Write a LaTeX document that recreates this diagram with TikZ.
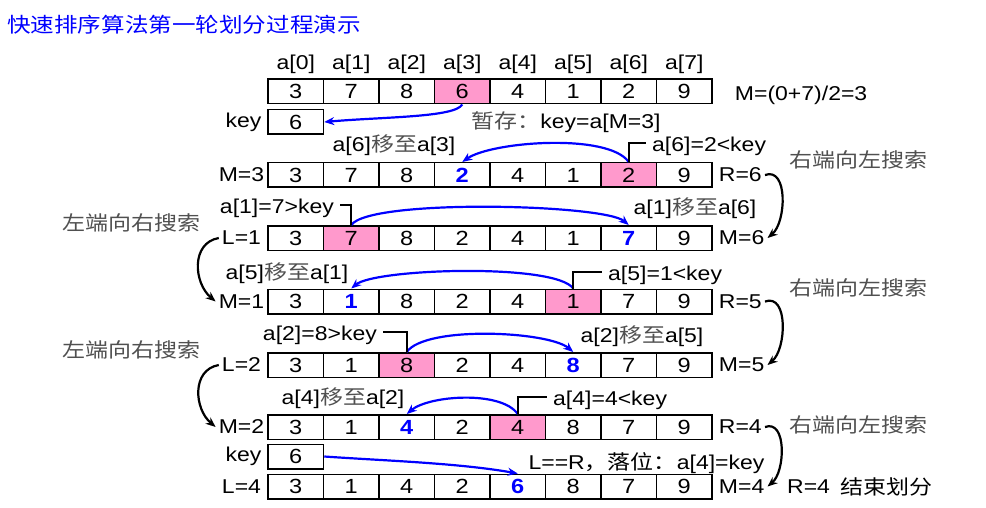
\documentclass[tikz,border=0pt]{standalone}
\usepackage{fontspec}
\setmainfont{Liberation Sans}[FakeStretch=1.15]
\newfontfamily\cjk{Noto Sans CJK SC}[FakeStretch=1.15]
\usetikzlibrary{arrows.meta, positioning}
\definecolor{keypink}{RGB}{255,153,204}
\definecolor{arrblue}{RGB}{0,0,255}
\definecolor{zhgray}{RGB}{80,80,80}
\newcommand{\zh}[1]{{\cjk #1}}
\newcommand{\zhg}[1]{{\cjk\color{zhgray}#1}}
\tikzset{
	cell/.style={draw, line width=1.5pt, minimum width=55.5pt, minimum height=24.5pt, inner sep=0pt, font=\fontsize{20.5}{24}\selectfont},
	hot/.style={cell, fill=keypink},
	moved/.style={cell, text=arrblue, font=\fontsize{20.5}{24}\selectfont\bfseries},
	lbl/.style={inner sep=0pt, font=\fontsize{20}{24}\selectfont},
	side/.style={lbl, inner xsep=3pt},
	cond/.style={lbl, inner xsep=6pt},
	mvarr/.style={arrblue, line width=2.2pt, -{Stealth[length=10pt, width=8pt]}},
	turn/.style={black, line width=2.2pt, -{Stealth[length=10pt, width=8pt]}},
	brk/.style={black, line width=1.6pt}
}

\begin{document}
\begin{tikzpicture}[x=1pt, y=1pt]
	\path[use as bounding box, fill=white] (0,0) rectangle (986,-508);

	\node[lbl, anchor=west, text=arrblue, font=\fontsize{20.5}{24}\selectfont] (title) at (7,-25) {\zh{快速排序算法第一轮划分过程演示}};

	\foreach \y/\vals/\hot/\mov [count=\row from 0] in {
		91.5/{3,7,8,6,4,1,2,9}/3/9,
		175/{3,7,8,2,4,1,2,9}/6/3,
		238/{3,7,8,2,4,1,7,9}/1/6,
		301.5/{3,1,8,2,4,1,7,9}/5/1,
		365/{3,1,8,2,4,8,7,9}/2/5,
		427/{3,1,4,2,4,8,7,9}/4/2,
		486.5/{3,1,4,2,6,8,7,9}/9/4}{
		\foreach \v [count=\col from 0] in \vals {
			\ifnum\col=\hot \def\sty{hot}\else\ifnum\col=\mov \def\sty{moved}\else\def\sty{cell}\fi\fi
			\node[\sty] (r\row-\col) at ({295.75+55.5*\col}, -\y) {\v};
		}
	}

	\foreach \col in {0,...,7}
		\node[lbl, above=5pt of r0-\col] (idx\col) {a[\col]};
	\node[lbl, anchor=west] (mid) at ([xshift=22pt, yshift=-4pt]r0-7.east) {M=(0+7)/2=3};

	\foreach \row/\lft/\rgt in {1/M=3/R=6, 2/L=1/M=6, 3/M=1/R=5, 4/L=2/M=5, 5/M=2/R=4, 6/L=4/M=4} {
		\node[side] (lt\row) at ([xshift=-54.25pt]r\row-0.center) {\lft};
		\node[side, right=3pt of r\row-7] (rt\row) {\rgt};
	}

	\node[cell] (key1) at (295.75,-122) {6};
	\node[side] (key1l) at ([xshift=-52.25pt]key1.center) {key};
	\node[cell] (key2) at (295.75,-456.5) {6};
	\node[side] (key2l) at ([xshift=-52.25pt]key2.center) {key};

	\node[lbl] (store) at (566,-122.5) {\zhg{暂存：}key=a[M=3]};
	\node[lbl] (mv1) at (394,-145) {a[6]\zhg{移至}a[3]};
	\node[lbl] (mv2) at (695,-208) {a[1]\zhg{移至}a[6]};
	\node[lbl] (mv3) at (287,-273) {a[5]\zhg{移至}a[1]};
	\node[lbl] (mv4) at (642,-336) {a[2]\zhg{移至}a[5]};
	\node[lbl] (mv5) at (343,-398.5) {a[4]\zhg{移至}a[2]};

	\node[cond, anchor=west] (cd1) at (646,-146) {a[6]=2<key};
	\node[cond, anchor=east] (cd2) at (340,-208) {a[1]=7>key};
	\node[cond, anchor=west] (cd3) at (602,-275) {a[5]=1<key};
	\node[cond, anchor=east] (cd4) at (383,-335) {a[2]=8>key};
	\node[cond, anchor=west] (cd5) at (547,-400) {a[4]=4<key};
	\node[lbl] (fin) at (646.5,-463.5) {L==R\zh{，落位：}a[4]=key};

	\node[lbl] (sr1) at (858,-160) {\zhg{右端向左搜索}};
	\node[lbl] (sr2) at (858,-288) {\zhg{右端向左搜索}};
	\node[lbl] (sr3) at (858,-425) {\zhg{右端向左搜索}};
	\node[lbl] (sl1) at (131.5,-223) {\zhg{左端向右搜索}};
	\node[lbl] (sl2) at (131.5,-350) {\zhg{左端向右搜索}};
	\node[lbl, anchor=west] (endR) at (787,-486.5) {R=4};
	\node[lbl] (endtx) at (886.5,-486.5) {\zh{结束划分}};

	\draw[mvarr] (r0-3.south) to[out=-120, in=5, out distance=15pt, in distance=60pt] (key1.east);
	\draw[mvarr] (r1-6.north) to[out=125, in=35, looseness=0.55] (r1-3.north);
	\draw[mvarr] (r2-1.north) to[out=55, in=140, looseness=0.3] (r2-6.north);
	\draw[mvarr] (r3-5.north) to[out=125, in=40, looseness=0.36] (r3-1.north);
	\draw[mvarr] (r4-2.north) to[out=55, in=140, looseness=0.5] (r4-5.north);
	\draw[mvarr] (r5-4.north) to[out=125, in=40, looseness=0.67] (r5-2.north);
	\draw[mvarr] (key2.east) to[out=-4, in=170, looseness=0.8] (r6-4.north);

	\draw[brk] (r1-6.north) |- ([yshift=3pt]cd1.west);
	\draw[brk] (r2-1.north) |- ([yshift=3pt]cd2.east);
	\draw[brk] (r3-5.north) |- ([yshift=3pt]cd3.west);
	\draw[brk] (r4-2.north) |- ([yshift=3pt]cd4.east);
	\draw[brk] (r5-4.north) |- ([yshift=3pt]cd5.west);

	\draw[turn] (rt1.east) to[out=20, in=40] (rt2.east);
	\draw[turn] (rt3.east) to[out=20, in=40] (rt4.east);
	\draw[turn] (rt5.east) to[out=20, in=40] (rt6.east);
	\draw[turn] (lt2.west) to[out=190, in=140, looseness=1.15] (lt3.west);
	\draw[turn] (lt4.west) to[out=190, in=140, looseness=1.15] (lt5.west);
\end{tikzpicture}
\end{document}
